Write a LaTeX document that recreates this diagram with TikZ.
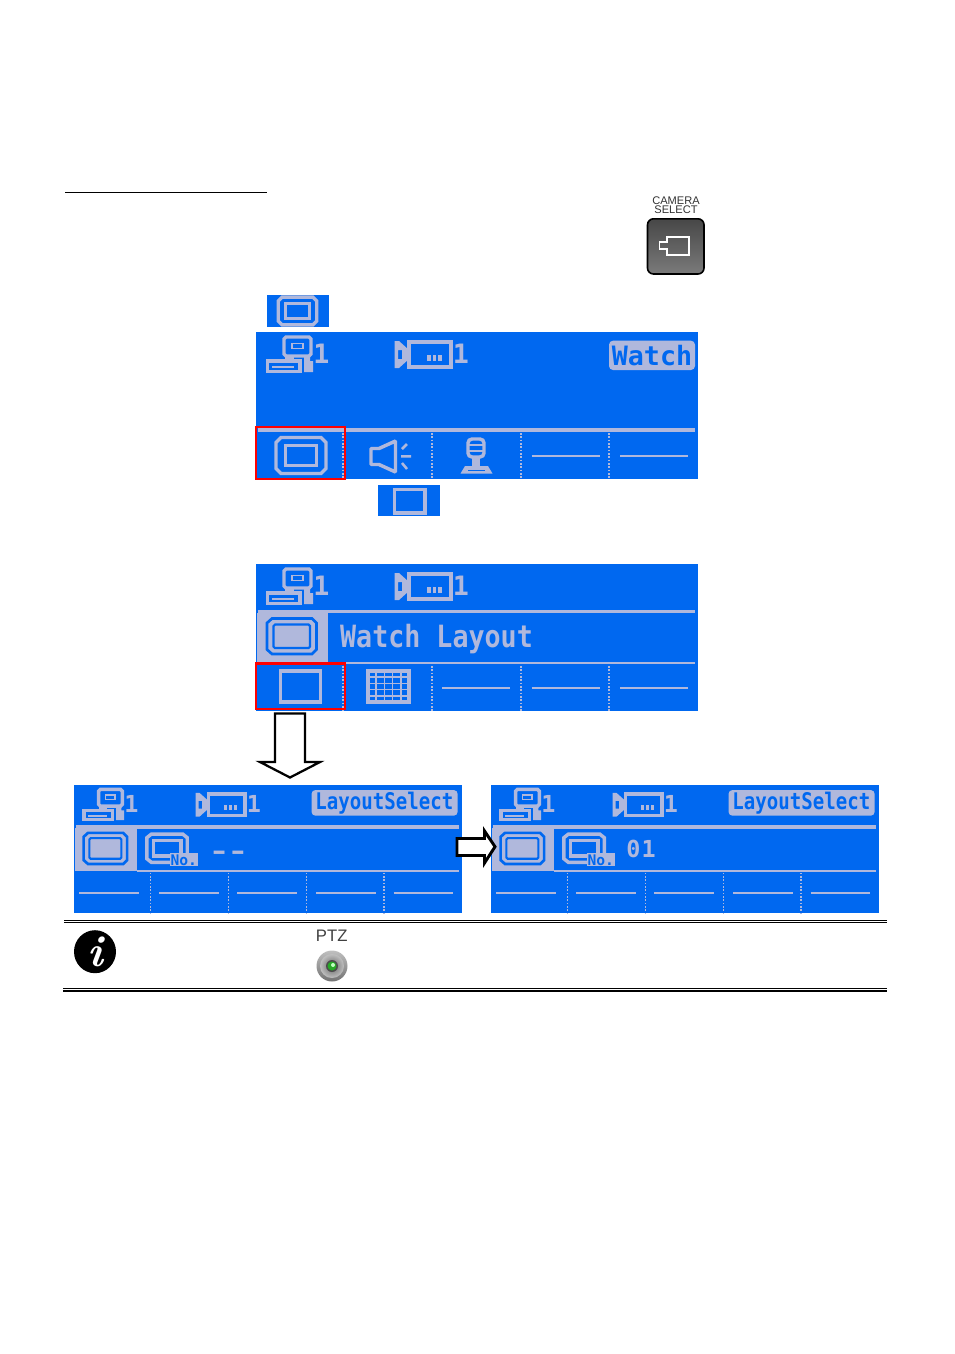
\documentclass[tikz,border=0pt]{standalone}
\usepackage{fontspec}
\newfontfamily\lcdfont{DejaVu Sans Mono}
\newfontfamily\keyfont{Liberation Sans}
\definecolor{lcdblue}{RGB}{0,104,240}
\definecolor{lcdgrey}{RGB}{176,184,220}
\tikzset{every picture/.style={line width=0.75pt},
  lcdline/.style={draw=lcdgrey,line width=2.6pt},
  lcdthin/.style={draw=lcdgrey,line width=1.3pt},
  lcddots/.style={draw=lcdgrey,line width=1.1pt,dash pattern=on 1.2pt off 1.3pt},
  lcdtext/.style={inner sep=0pt,text=lcdgrey,transform shape,font=\lcdfont\bfseries\fontsize{20}{20}\selectfont},
  redframe/.style={draw=red,line width=1.9pt},
  blockarrow/.style={draw=black,fill=white,line width=1.7pt,miter limit=8},
  noterule/.style={draw=black},
  pics/frameicon/.style={code={
    \draw [#1,line width=2.6pt] (-25,-13) -- (-20,-18) -- (20,-18) -- (25,-13) -- (25,13) -- (20,18) -- (-20,18) -- (-25,13) -- cycle ;
    \draw [#1,line width=2.6pt] (-15.5,-10) rectangle (15.5,10) ;
  }},
  pics/lcdhead/.style={code={
    %Computer icon
    \draw [lcdline] (28,7) -- (30,5) -- (53,5) -- (55,7) -- (55,22) -- (53,24) -- (30,24) -- (28,22) -- cycle ;
    \draw [lcdthin] (36,11.5) rectangle (47,16.5) ;
    \fill [lcdgrey] (29,24) rectangle (38,28) ;
    \draw [lcdline] (11.5,29) rectangle (44,39.5) ;
    \draw [lcdthin] (16,35) -- (38,35) ;
    \fill [lcdgrey] (48,24) -- (54,24) -- (54,29) -- (57,29) -- (57,40) -- (48,40) -- cycle ;
    %Camera icon
    \draw [lcdline] (153,10) rectangle (195,35) ;
    \fill [lcdgrey,even odd rule] (138.5,9) -- (143,9) -- (153,18) -- (153,27) -- (143,36) -- (138.5,36) -- cycle (142,18) rectangle (146,27) ;
    \foreach \dotx in {171,176.5,182} { \fill [lcdgrey] (\dotx,22.5) rectangle +(3.8,6.5) ; }
    % Text Node
    \node (-pcnum) [lcdtext] at (65.5,22) {1};
    % Text Node
    \node (-camnum) [lcdtext] at (205,22) {1};
  }},
  pics/lcdmenu/.style={code={
    %Selected menu square
    \fill [lcdgrey] (1.3,49.3) rectangle (72.3,98.5) ;
    \draw [draw=lcdblue,line width=2pt] (11,59) -- (16,54.5) -- (56,54.5) -- (60.5,59) -- (60.5,85.5) -- (56,90) -- (16,90) -- (11,85.5) -- cycle ;
    \draw [draw=lcdblue,line width=1.6pt] (17.5,62) -- (19,60.5) -- (52.5,60.5) -- (54,62) -- (54,82.5) -- (52.5,84) -- (19,84) -- (17.5,82.5) -- cycle ;
    \draw [lcdline] (2,47.7) -- (439,47.7) ;
  }}
}
\begin{document}
\begin{tikzpicture}[x=0.75pt,y=-0.75pt]
\useasboundingbox (0,0) rectangle (954,1354);

%Straight Lines: heading rule
\draw [line width=1.4pt] (65,192.5) -- (267,192.5) ;

% Text Node
\node (camtext) [inner sep=0pt,align=center,text=black!80,font=\keyfont\fontsize{8.3}{7}\selectfont] at (676,205) {CAMERA\\SELECT};
%Shape: Camera key
\draw [black,line width=1.2pt,rounded corners=4.5pt,top color=black!72,bottom color=black!52] (647.5,218.8) rectangle (704,274) ;
\draw [white,line width=0.9pt] (667,237) -- (689,237) -- (689,255) -- (667,255) -- (667,249) -- (659.5,249) -- (659.5,242) -- (667,242) -- cycle ;

%Shape: Small frame key
\fill [lcdblue] (267,295) rectangle (329,327) ;
\pic [scale=0.77] at (297.5,311) {frameicon={draw=lcdgrey}};

%First panel
\begin{scope}[shift={(256,332)}]
  \fill [lcdblue] (0,0) rectangle (442,147) ;
  \pic (headA) {lcdhead};
  \fill [lcdgrey,rounded corners=3pt] (353,8.7) rectangle (439,38) ;
  % Text Node
  \node (watchbadge) [lcdtext,text=lcdblue] at (396,24) {Watch};
  \draw [lcdline] (2,98) -- (439,98) ;
  \foreach \divx in {87,176,265,353} { \draw [lcddots] (\divx,101) -- (\divx,147) ; }
  \foreach \dashx in {275.7,364} { \draw [lcdthin] (\dashx,124.3) -- +(68,0) ; }
  \pic at (45,123.5) {frameicon={draw=lcdgrey}};
  %Shape: Speaker
  \draw [lcdline,line join=bevel] (115,116.5) -- (123,116.5) -- (139.5,109) -- (139.5,140) -- (123,132.5) -- (115,132.5) -- cycle ;
  \draw [lcdline,line width=1.9pt] (146,117) -- (151,112) (145,124.3) -- (155,124.3) (146,131) -- (151,137) ;
  %Shape: Microphone
  \draw [lcdline,rounded corners=3pt] (212,107) rectangle (228,125) ;
  \draw [lcdthin] (213,113) -- (227,113) (213,119) -- (227,119) ;
  \fill [lcdgrey] (216,125) rectangle (224,135) ;
  \fill [lcdgrey] (209,134) -- (232,134) -- (236.5,141.5) -- (204.5,141.5) -- cycle ;
  \fill [lcdblue] (212,137.5) rectangle (229,139) ;
  \draw [redframe] (0.2,95.2) rectangle (88.8,146.8) ;
\end{scope}

%Shape: Small blank key
\fill [lcdblue] (378,485) rectangle (440,516) ;
\draw [lcdline] (394.5,489.5) rectangle (425,513) ;

%Second panel
\begin{scope}[shift={(256,564)}]
  \fill [lcdblue] (0,0) rectangle (442,147) ;
  \pic (headB) {lcdhead};
  \pic (menuB) {lcdmenu};
  % Text Node
  \node (watchlayout) [lcdtext,yscale=1.15] at (180.5,75) {Watch Layout};
  \draw [lcdthin] (72,99.3) -- (439,99.3) ;
  \foreach \divx in {87,176,265,353} { \draw [lcddots] (\divx,102) -- (\divx,147) ; }
  \foreach \dashx in {186.3,275.7,364} { \draw [lcdthin] (\dashx,124.3) -- +(68,0) ; }
  \draw [lcdline] (24.5,107) rectangle (64.5,138) ;
  %Shape: Grid
  \draw [lcdline] (112,107) rectangle (153,138) ;
  \foreach \cellx in {120.2,128.4,136.6,144.8} { \draw [lcdgrey,line width=1.3pt] (\cellx,107) -- (\cellx,138) ; }
  \foreach \celly in {113.2,119.4,125.6,131.8} { \draw [lcdgrey,line width=1.3pt] (112,\celly) -- (153,\celly) ; }
  \draw [redframe] (0.2,99.5) rectangle (88.8,144.8) ;
\end{scope}

%Shape: Down arrow
\draw [blockarrow] (275,713.5) -- (305,713.5) -- (305,762) -- (320,762) -- (290,777.5) -- (260,762) -- (275,762) -- cycle ;

%Third and fourth panels
\foreach \panelx/\panelname/\panelval/\valx/\valy in {74/C/{\scalebox{1.5}[1]{-\kern-1.4pt-}}/176/80,491/D/{0\kern1pt 1}/171/72.5} {
\begin{scope}[shift={(\panelx,785)},scale=0.878]
  \fill [lcdblue] (0,0) rectangle (442,146) ;
  \pic [transform shape] (head\panelname) {lcdhead};
  \pic [transform shape] (menu\panelname) {lcdmenu};
  \fill [lcdgrey,rounded corners=3pt] (270.5,5.7) rectangle (437,35) ;
  % Text Node
  \node (badge\panelname) [lcdtext,text=lcdblue,yscale=1.2,font=\lcdfont\bfseries\fontsize{16.3}{16}\selectfont] at (353.5,20.5) {LayoutSelect};
  \draw [lcdthin] (72,97.6) -- (439,97.6) ;
  \foreach \divx in {87,176,265,353} { \draw [lcddots] (\divx,100) -- (\divx,146) ; }
  \foreach \dashx in {6,97,186,275.7,364} { \draw [lcdthin] (\dashx,123.4) -- +(68,0) ; }
  %Shape: Layout number icon
  \draw [lcdline] (83,60) -- (88,56) -- (124,56) -- (129,60) -- (129,84) -- (124,88) -- (88,88) -- (83,84) -- cycle ;
  \draw [lcdline] (90.5,63) rectangle (122,81) ;
  \fill [lcdgrey] (109,77) rectangle (141,92.5) ;
  % Text Node
  \node (numtag\panelname) [lcdtext,text=lcdblue,font=\lcdfont\bfseries\fontsize{12.5}{11}\selectfont] at (125,85.5) {No.};
  % Text Node
  \node (value\panelname) [lcdtext] at (\valx,\valy) {\panelval};
\end{scope}
}

%Shape: Right arrow
\draw [blockarrow,line width=2.2pt] (457,838.5) -- (484.5,838.5) -- (484.5,831) -- (495,846.7) -- (484.5,863) -- (484.5,855.5) -- (457,855.5) -- cycle ;

%Straight Lines: note rules
\draw [noterule,line width=0.9pt] (64,920.5) -- (887,920.5) ;
\draw [noterule,line width=0.7pt] (64,922.8) -- (887,922.8) ;
\draw [noterule,line width=0.7pt] (63,988.7) -- (887,988.7) ;
\draw [noterule,line width=1.5pt] (63,991) -- (887,991) ;

%Shape: Info badge
\fill [black] (95,951.7) ellipse (21 and 21.5) ;
% Text Node
\node (infomark) [inner sep=0pt,text=white,font=\bfseries\itshape\fontsize{33}{33}\selectfont] at (95,951.5) {i};

% Text Node
\node (ptztext) [inner sep=0pt,text=black!75,font=\keyfont\fontsize{12.5}{12}\selectfont] at (331.7,935.5) {PTZ};
%Shape: PTZ key
\shade [top color=black!25,bottom color=black!55] (332,966) circle (15.5) ;
\shade [inner color=black!60,outer color=black!25] (332,966) circle (12) ;
\fill [black!70] (332,966) circle (6) ;
\fill [green!60!black!85] (332,966) circle (4.5) ;
\fill [green!25] (333,965) circle (2) ;
\end{tikzpicture}
\end{document}
